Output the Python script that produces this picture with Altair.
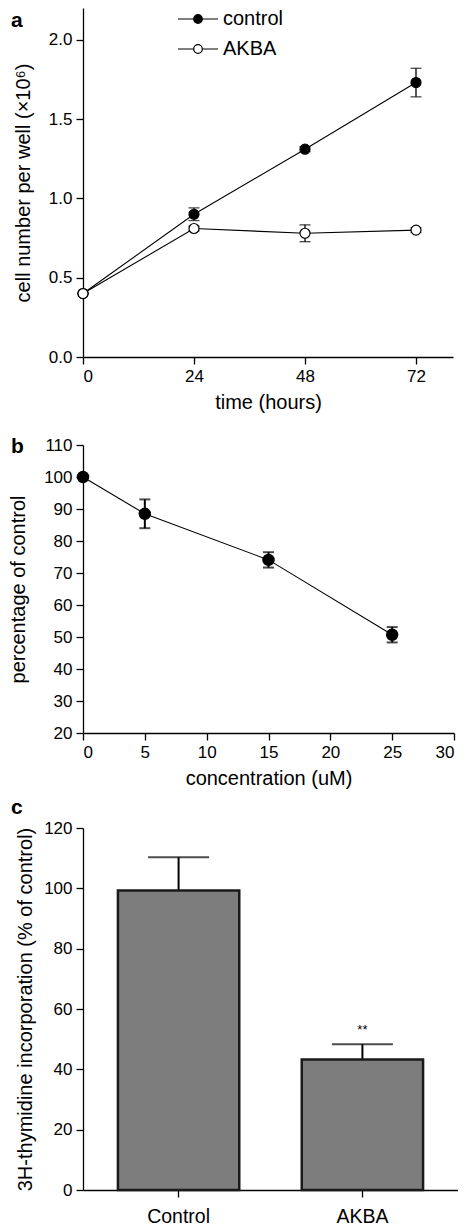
import altair as alt
import pandas as pd

FONT = "Liberation Sans"

# ---------------- Panel a data ----------------
time_h = [0, 24, 48, 72]
control_mean = [0.40, 0.90, 1.31, 1.73]
control_err = [0.0, 0.04, 0.015, 0.09]
akba_mean = [0.40, 0.81, 0.78, 0.80]
akba_err = [0.0, 0.015, 0.053, 0.015]
groups_a = ["control", "AKBA"]

# ---------------- Panel b data ----------------
conc_um = [0, 5, 15, 25]
pct_control = [100.0, 88.5, 74.1, 50.7]
pct_err = [0.0, 4.5, 2.4, 2.4]

# ---------------- Panel c data ----------------
groups_c = ["Control", "AKBA"]
thym = [99.3, 43.3]
thym_err = [11.0, 5.0]
sig = ["", "**"]

dfa = pd.DataFrame({
    "time": time_h * 2,
    "value": control_mean + akba_mean,
    "err": control_err + akba_err,
    "group": [groups_a[0]] * 4 + [groups_a[1]] * 4,
})
dfa["lo"] = dfa["value"] - dfa["err"]
dfa["hi"] = dfa["value"] + dfa["err"]

dfb = pd.DataFrame({"conc": conc_um, "pct": pct_control, "err": pct_err})
dfb["lo"] = dfb["pct"] - dfb["err"]
dfb["hi"] = dfb["pct"] + dfb["err"]

dfc = pd.DataFrame({"group": groups_c, "val": thym, "err": thym_err, "sig": sig})
dfc["hi"] = dfc["val"] + dfc["err"]

# legend glyph: line through a circle (wider than its nominal box)
legend_path = ("M-2,0L-0.43,0M0.43,0L2,0M0.43,0A0.43,0.43,0,1,1,-0.43,0"
               "A0.43,0.43,0,1,1,0.43,0Z")


def panel_label(letter, x, y):
    return alt.Chart(pd.DataFrame({"t": [letter]})).mark_text(
        font=FONT, fontWeight="bold", fontSize=21, align="left",
        baseline="alphabetic", color="black"
    ).encode(x=alt.value(x), y=alt.value(y), text="t:N")


# ---------------- Panel a ----------------
sx_a = alt.Scale(domain=[0, 80], nice=False)
sy_a = alt.Scale(domain=[0, 2.2], nice=False)
ax_a = alt.Axis(values=[0, 24, 48, 72], title="time (hours)")
ay_a = alt.Axis(values=[0, 0.5, 1.0, 1.5, 2.0], format=".1f",
                title="cell number per well (×10⁶)")


def xa(f="time"):
    return alt.X(f"{f}:Q", scale=sx_a, axis=ax_a)


def ya(f):
    return alt.Y(f"{f}:Q", scale=sy_a, axis=ay_a)


base_a = alt.Chart(dfa)
lines_a = base_a.mark_line(color="black", strokeWidth=1.1).encode(
    x=xa(), y=ya("value"), detail="group:N")
rule_a = base_a.mark_rule(color="black", strokeWidth=1.3).encode(
    x=xa(), y=ya("lo"), y2="hi:Q")
caplo_a = base_a.mark_tick(orient="horizontal", size=11, thickness=1.3,
                           color="black").encode(x=xa(), y=ya("lo"))
caphi_a = base_a.mark_tick(orient="horizontal", size=11, thickness=1.3,
                           color="black").encode(x=xa(), y=ya("hi"))
pts_a = base_a.mark_point(shape="circle", size=100, stroke="black",
                          strokeWidth=1.2, opacity=1, fillOpacity=1).encode(
    x=xa(), y=ya("value"),
    fill=alt.Fill("group:N",
                  scale=alt.Scale(domain=groups_a, range=["black", "white"]),
                  legend=alt.Legend(title=None, orient="none", legendX=104,
                                    legendY=0, symbolType=legend_path,
                                    symbolSize=400, symbolStrokeColor="black",
                                    symbolStrokeWidth=1.2, labelFontSize=20,
                                    labelFont=FONT, labelColor="black",
                                    labelOffset=14, rowPadding=9, padding=0)))
chart_a = alt.layer(lines_a, rule_a, caplo_a, caphi_a, pts_a,
                    panel_label("a", -72, 19)).properties(width=370, height=349)

# ---------------- Panel b ----------------
sx_b = alt.Scale(domain=[0, 30], nice=False)
sy_b = alt.Scale(domain=[20, 110], nice=False)
ax_b = alt.Axis(values=[0, 5, 10, 15, 20, 25, 30], title="concentration (uM)")
ay_b = alt.Axis(values=list(range(20, 111, 10)), title="percentage of control")


def xb():
    return alt.X("conc:Q", scale=sx_b, axis=ax_b)


def yb(f):
    return alt.Y(f"{f}:Q", scale=sy_b, axis=ay_b)


base_b = alt.Chart(dfb)
line_b = base_b.mark_line(color="black", strokeWidth=1.1).encode(
    x=xb(), y=yb("pct"))
rule_b = base_b.mark_rule(color="black", strokeWidth=2).encode(
    x=xb(), y=yb("lo"), y2="hi:Q")
caplo_b = base_b.mark_tick(orient="horizontal", size=11, thickness=2,
                           color="black").encode(x=xb(), y=yb("lo"))
caphi_b = base_b.mark_tick(orient="horizontal", size=11, thickness=2,
                           color="black").encode(x=xb(), y=yb("hi"))
pts_b = base_b.mark_point(shape="circle", size=110, fill="black",
                          stroke="black", opacity=1, fillOpacity=1).encode(
    x=xb(), y=yb("pct"))
chart_b = alt.layer(line_b, rule_b, caplo_b, caphi_b, pts_b,
                    panel_label("b", -72, 8)).properties(width=371, height=288)

# ---------------- Panel c ----------------
sx_c = alt.Scale(paddingInner=0.34, paddingOuter=0.19)
sy_c = alt.Scale(domain=[0, 120], nice=False)
ax_c = alt.Axis(title=None, labelAngle=0, labelPadding=10, labelFontSize=19.5)
ay_c = alt.Axis(values=list(range(0, 121, 20)), titlePadding=8,
                title="3H-thymidine incorporation (% of control)")


def xc():
    return alt.X("group:N", sort=groups_c, scale=sx_c, axis=ax_c)


def yc(f):
    return alt.Y(f"{f}:Q", scale=sy_c, axis=ay_c)


base_c = alt.Chart(dfc)
rule_c = base_c.mark_rule(color="black", strokeWidth=2).encode(
    x=xc(), y=yc("val"), y2="hi:Q")
cap_c = base_c.mark_tick(orient="horizontal", size=61, thickness=2,
                         color="black").encode(x=xc(), y=yc("hi"))
bars_c = base_c.mark_bar(fill="#7d7d7d", stroke="#1a1a1a",
                         strokeWidth=2.5).encode(x=xc(), y=yc("val"))
sig_c = base_c.mark_text(font=FONT, fontSize=13, dy=-14, color="black",
                         baseline="middle").encode(
    x=xc(), y=yc("hi"), text="sig:N")
chart_c = alt.layer(rule_c, cap_c, bars_c, sig_c,
                    panel_label("c", -72, -14)).properties(width=375, height=362)

top = alt.vconcat(chart_a, chart_b, spacing=24)
chart = alt.vconcat(top, chart_c, spacing=9).properties(
    padding={"left": 0, "top": 0, "right": 0, "bottom": 0}
).configure(
    font=FONT
).configure_view(stroke=None).configure_axis(
    labelFont=FONT, titleFont=FONT, labelFontSize=17, titleFontSize=20,
    labelColor="black", titleColor="black", titleFontWeight="normal",
    domainColor="black", tickColor="black", domainWidth=1.3, tickWidth=1.3,
    tickSize=7, grid=False, labelPadding=4, labelOverlap=False
).configure_axisX(titlePadding=8).configure_axisY(titlePadding=15)

chart.save("out.html", embed_options={"renderer": "svg", "actions": False})
